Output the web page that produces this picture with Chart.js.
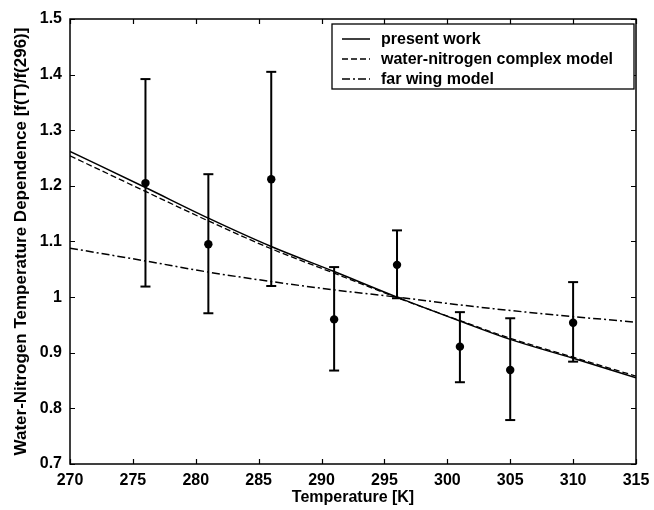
<!DOCTYPE html>
<html><head><meta charset="utf-8">
<script src="https://cdn.jsdelivr.net/npm/chart.js@4.4.0/dist/chart.umd.min.js"></script>
<style>html,body{margin:0;padding:0;background:#fff}</style>
</head><body>
<canvas id="c" width="654" height="510" style="display:block;width:654px;height:510px"></canvas>
<script>
// ---- data ----
const pointT   = [276, 281, 286, 291, 296, 301, 305, 310];
const pointVal = [1.205, 1.095, 1.212, 0.960, 1.058, 0.911, 0.869, 0.954];
const errLow   = [1.019, 0.971, 1.020, 0.868, 0.998, 0.847, 0.779, 0.884];
const errHigh  = [1.392, 1.221, 1.405, 1.054, 1.120, 0.973, 0.962, 1.027];

const curveT       = [270, 276, 281, 286, 291, 296, 301, 305, 310, 315];
const presentWork  = [1.262, 1.197, 1.142, 1.091, 1.046, 1.000, 0.957, 0.924, 0.890, 0.855];
const complexModel = [1.254, 1.190, 1.137, 1.087, 1.043, 0.999, 0.958, 0.926, 0.892, 0.858];
const farWing      = [1.088, 1.065, 1.045, 1.028, 1.013, 1.000, 0.986, 0.976, 0.965, 0.955];

const seriesNames = ['present work', 'water-nitrogen complex model', 'far wing model'];
const xTicks = [270, 275, 280, 285, 290, 295, 300, 305, 310, 315];
const yTicks = [0.7, 0.8, 0.9, 1.0, 1.1, 1.2, 1.3, 1.4, 1.5];
const yTickLabels = ['0.7', '0.8', '0.9', '1', '1.1', '1.2', '1.3', '1.4', '1.5'];
const xTitle = 'Temperature [K]';
const yTitle = 'Water-Nitrogen Temperature Dependence [f(T)/f(296)]';

// ---- build datasets ----
const toXY = (xs, ys) => xs.map((x, i) => ({x: x, y: ys[i]}));
const errData = [];
pointT.forEach((t, i) => {
  errData.push({x: t, y: errLow[i]});
  errData.push({x: t, y: errHigh[i]});
  errData.push({x: t, y: null});
});

const FONT = "'Liberation Sans', Arial, Helvetica, sans-serif";

const curveStyles = [
  {dash: []},
  {dash: [6, 3]},
  {dash: [8, 3, 2, 3]}
];

const datasets = [
  {label: seriesNames[0], data: toXY(curveT, presentWork), borderColor: '#000', borderWidth: 1.5,
   borderDash: curveStyles[0].dash, pointRadius: 0, cubicInterpolationMode: 'monotone', fill: false},
  {label: seriesNames[1], data: toXY(curveT, complexModel), borderColor: '#000', borderWidth: 1.3,
   borderDash: curveStyles[1].dash, pointRadius: 0, cubicInterpolationMode: 'monotone', fill: false},
  {label: seriesNames[2], data: toXY(curveT, farWing), borderColor: '#000', borderWidth: 1.5,
   borderDash: curveStyles[2].dash, pointRadius: 0, cubicInterpolationMode: 'monotone', fill: false},
  {label: 'error', data: errData, borderColor: '#000', borderWidth: 2, spanGaps: false,
   pointStyle: 'line', pointRadius: 5, pointBorderWidth: 2, pointBorderColor: '#000', pointHoverRadius: 5},
  {label: 'measured', data: toXY(pointT, pointVal), showLine: false, pointStyle: 'circle',
   pointRadius: 4.2, backgroundColor: '#000', borderColor: '#000', pointBorderWidth: 0}
];

const framePlugin = {
  id: 'frameAndLegend',
  afterDraw(chart) {
    const {ctx, chartArea: a, scales: {x, y}} = chart;
    ctx.save();
    ctx.strokeStyle = '#000';
    ctx.setLineDash([]);
    ctx.lineWidth = 1.5;
    ctx.strokeRect(a.left, a.top, a.right - a.left, a.bottom - a.top);
    const L = 5;
    ctx.lineWidth = 1.2;
    ctx.beginPath();
    xTicks.forEach(t => {
      const px = Math.round(x.getPixelForValue(t)) + 0.5;
      ctx.moveTo(px, a.bottom); ctx.lineTo(px, a.bottom - L);
      ctx.moveTo(px, a.top); ctx.lineTo(px, a.top + L);
    });
    yTicks.forEach(v => {
      const py = Math.round(y.getPixelForValue(v)) + 0.5;
      ctx.moveTo(a.left, py); ctx.lineTo(a.left + L, py);
      ctx.moveTo(a.right, py); ctx.lineTo(a.right - L, py);
    });
    ctx.stroke();

    // legend box
    const bx = a.left + 262, by = a.top + 5, bw = a.right - 2 - bx, bh = 65;
    ctx.fillStyle = '#fff';
    ctx.fillRect(bx, by, bw, bh);
    ctx.lineWidth = 1.3;
    ctx.strokeRect(bx, by, bw, bh);
    ctx.font = 'bold 16px ' + FONT;
    ctx.textBaseline = 'middle';
    ctx.textAlign = 'left';
    for (let i = 0; i < 3; i++) {
      const ds = chart.data.datasets[i];
      const ry = by + 15 + i * 20;
      ctx.beginPath();
      ctx.setLineDash(ds.borderDash || []);
      ctx.lineWidth = 1.5;
      ctx.moveTo(bx + 10, ry); ctx.lineTo(bx + 38, ry);
      ctx.stroke();
      ctx.setLineDash([]);
      ctx.fillStyle = '#000';
      ctx.fillText(ds.label, bx + 49, ry + 1);
    }
    ctx.restore();
  }
};

new Chart(document.getElementById('c'), {
  type: 'line',
  data: {datasets: datasets},
  options: {
    responsive: false,
    animation: false,
    devicePixelRatio: 1,
    layout: {padding: {top: 19, right: 18, left: 0, bottom: 0}},
    plugins: {legend: {display: false}, tooltip: {enabled: false}},
    scales: {
      x: {
        type: 'linear', min: 270, max: 315,
        afterFit: s => { s.height = 46; s.paddingLeft = 0; s.paddingRight = 0; },
        afterBuildTicks: s => { s.ticks = xTicks.map(v => ({value: v})); },
        grid: {display: false, drawTicks: false},
        border: {display: false},
        ticks: {color: '#000', padding: 7, font: {family: FONT, size: 16, weight: 'bold'}, maxRotation: 0,
                callback: v => String(v)},
        title: {display: true, text: xTitle, color: '#000', font: {family: FONT, size: 16, weight: 'bold'},
                padding: {top: 0, bottom: 3}}
      },
      y: {
        type: 'linear', min: 0.7, max: 1.5,
        afterFit: s => { s.width = 70; s.paddingTop = 0; s.paddingBottom = 0; },
        afterBuildTicks: s => { s.ticks = yTicks.map(v => ({value: v})); },
        grid: {display: false, drawTicks: false},
        border: {display: false},
        ticks: {color: '#000', padding: 8, font: {family: FONT, size: 16, weight: 'bold'},
                callback: (v, i) => yTickLabels[i]},
        title: {display: true, text: yTitle, color: '#000', font: {family: FONT, size: 17, weight: 'bold'},
                padding: {top: 11, bottom: 0}}
      }
    }
  },
  plugins: [framePlugin]
});
</script>
</body></html>
